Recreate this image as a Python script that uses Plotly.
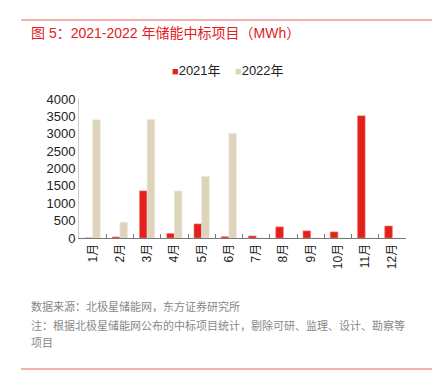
import plotly.graph_objects as go

months = ["1月", "2月", "3月", "4月", "5月", "6月", "7月", "8月", "9月", "10月", "11月", "12月"]
v2021 = [0, 30, 1355, 130, 405, 38, 58, 320, 205, 175, 3515, 345]
v2022 = [3400, 455, 3415, 1355, 1770, 3010, 0, 0, 0, 0, 0, 0]
yticks = [0, 500, 1000, 1500, 2000, 2500, 3000, 3500, 4000]
series_names = ["2021年", "2022年"]

RED = "#E3201B"
BEIGE = "#DED4BC"
FONT = "Liberation Sans, Noto Sans CJK SC, sans-serif"

OFF = 8  # page body margin
W, H = 444 - OFF, 379 - OFF
# plot area in screen coords
X0, X1, Y0, Y1 = 79, 406, 99, 238
L, R, T, B = X0 - OFF, W - (X1 - OFF), Y0 - OFF, H - (Y1 - OFF)
pw, ph = X1 - X0, Y1 - Y0

def px(x):
    return (x - X0) / pw

def py(y):
    return (Y1 - y) / ph

fig = go.Figure()
fig.add_bar(x=months, y=v2021, name=series_names[0], showlegend=False,
            marker=dict(color=RED, line=dict(color="#F08070", width=0.6)))
fig.add_bar(x=months, y=v2022, name=series_names[1], showlegend=False,
            marker=dict(color=BEIGE, line=dict(color="#EFE9DC", width=0.6)))

fig.update_layout(
    width=W, height=H,
    margin=dict(l=L, r=R, t=T, b=B, autoexpand=False),
    paper_bgcolor="white", plot_bgcolor="white",
    font=dict(family=FONT, size=12, color="#222"),
    barmode="group", bargap=0.44, bargroupgap=0.0,
    showlegend=False,
    xaxis=dict(type="category", tickangle=-90, showline=True, linecolor="#777", linewidth=1,
               ticks="inside", tickson="boundaries", ticklen=4, tickcolor="#777",
               tickfont=dict(size=12, color="#222"), showgrid=False, automargin=False),
    yaxis=dict(range=[0, 4000], tickvals=yticks, showline=True, linecolor="#ccc", linewidth=1,
               showgrid=False, zeroline=False, ticks="", tickfont=dict(size=13, color="#222"),
               automargin=False),
)

# legend (manual, compact squares)
for xpos, name, col in [(170, series_names[0], RED), (233, series_names[1], BEIGE)]:
    fig.add_annotation(xref="paper", yref="paper", x=px(xpos), y=py(70), xanchor="left", yanchor="middle",
                       text=f"<span style='color:{col}; font-size:11px'>■</span>{name}", showarrow=False,
                       font=dict(size=13, color="#222", family=FONT))

fig.add_shape(type="line", xref="paper", yref="paper", x0=px(21), x1=px(432), y0=py(20), y1=py(20),
              line=dict(color="#E8605A", width=1))
fig.add_shape(type="line", xref="paper", yref="paper", x0=px(21), x1=px(432), y0=py(369), y1=py(369),
              line=dict(color="#E8605A", width=1))

fig.add_annotation(xref="paper", yref="paper", x=px(29), y=py(33), xanchor="left", yanchor="middle",
                   text="图 5：2021-2022 年储能中标项目（MWh）", showarrow=False,
                   font=dict(size=14, color=RED, family=FONT))
fig.add_annotation(xref="paper", yref="paper", x=px(29), y=py(306), xanchor="left", yanchor="middle",
                   text="数据来源：北极星储能网，东方证券研究所", showarrow=False,
                   font=dict(size=11, color="#888", family=FONT))
fig.add_annotation(xref="paper", yref="paper", x=px(29), y=py(325), xanchor="left", yanchor="middle",
                   text="注：根据北极星储能网公布的中标项目统计，剔除可研、监理、设计、勘察等",
                   showarrow=False, font=dict(size=11, color="#888", family=FONT))
fig.add_annotation(xref="paper", yref="paper", x=px(29), y=py(343), xanchor="left", yanchor="middle",
                   text="项目", showarrow=False, font=dict(size=11, color="#888", family=FONT))

fig.write_html("out.html")
